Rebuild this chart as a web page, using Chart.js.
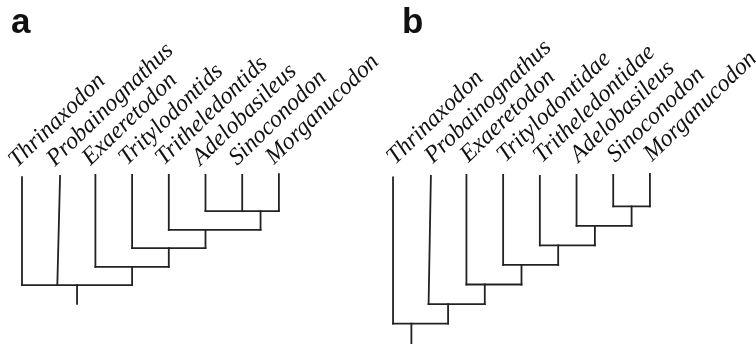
<!DOCTYPE html>
<html>
<head>
<meta charset="utf-8">
<script src="https://cdn.jsdelivr.net/npm/chart.js@4/dist/chart.umd.min.js"></script>
<style>
  html, body { margin: 0; padding: 0; background: #ffffff; }
  #wrap { width: 756px; height: 344px; position: relative; }
  .pre1 { font: italic 24px "Liberation Serif"; position: absolute; left: -9999px; }
  .pre2 { font: bold 35px "Liberation Sans"; position: absolute; left: -9999px; }
</style>
</head>
<body>
<span class="pre1">Thrinaxodon</span><span class="pre2">ab</span>
<div id="wrap"><canvas id="c" width="756" height="344"></canvas></div>
<script>
// ---------- DATA ----------
const panelLetters = ['a', 'b'];

// Panel a
const taxaA = ['Thrinaxodon', 'Probainognathus', 'Exaeretodon', 'Tritylodontids',
               'Tritheledontids', 'Adelobasileus', 'Sinoconodon', 'Morganucodon'];
const tipTopA = [0.12, 0.05, 0, 0, 0, 0, 0, -0.05];      // level of each tip's top
const tipLeanA = [0, 0.075, 0, 0, 0, 0, 0, 0];            // top-x minus bottom-x
const nodeChildrenA = [['t5', 't6', 't7'], ['t4', 'n0'], ['t3', 'n1'], ['t2', 'n2'], ['t0', 't1', 'n3']];
const nodeLevelA = [1.95, 2.97, 3.95, 4.97, 5.95];
const nodeXA = [6.5, 5.0, 4.0, 3.0, 1.5];
const rootBaseA = 6.97;

// Panel b
const taxaB = ['Thrinaxodon', 'Probainognathus', 'Exaeretodon', 'Tritylodontidae',
               'Tritheledontidae', 'Adelobasileus', 'Sinoconodon', 'Morganucodon'];
const tipTopB = [0.12, 0.05, 0, 0, 0.04, 0, 0, -0.05];
const tipLeanB = [0, 0.063, 0, 0, 0, 0, 0, 0];
const nodeChildrenB = [['t6', 't7'], ['t5', 'n0'], ['t4', 'n1'], ['t3', 'n2'], ['t2', 'n3'], ['t1', 'n4'], ['t0', 'n5']];
const nodeLevelB = [1.6, 2.6, 3.6, 4.6, 5.6, 6.6, 7.6];
const nodeXB = [6.5, 5.5, 4.5, 3.5, 2.5, 1.5, 0.5];
const rootBaseB = 8.6;

const panelOffsetB = 10.11; // x offset of panel b tips (in tip-spacing units)

// ---------- BUILD SEGMENTS ----------
const LINE_COLOR = '#222222';
const datasets = [];
function seg(p1, p2, axis) {
  datasets.push({
    data: [p1, p2],
    yAxisID: axis,
    borderColor: LINE_COLOR,
    borderWidth: 1.8,
    pointRadius: 0,
    showLine: true,
    fill: false,
    borderCapStyle: 'square'
  });
}
function buildTree(taxa, tipTop, tipLean, children, levels, xs, rootBase, off, axis) {
  const info = (id) => {
    const k = parseInt(id.slice(1));
    if (id[0] === 't') return { x: k + off, top: tipTop[k], lean: tipLean[k] };
    return { x: xs[k] + off, top: levels[k], lean: 0 };
  };
  children.forEach((ch, i) => {
    const lv = levels[i];
    const cx = ch.map(c => info(c).x - info(c).lean / 2);
    seg({ x: Math.min(...cx), y: lv }, { x: Math.max(...cx), y: lv }, axis);
    ch.forEach(c => {
      const f = info(c);
      seg({ x: f.x + f.lean / 2, y: f.top }, { x: f.x - f.lean / 2, y: lv }, axis);
    });
  });
  const r = children.length - 1;
  seg({ x: xs[r] + off, y: levels[r] }, { x: xs[r] + off, y: rootBase }, axis);
}
buildTree(taxaA, tipTopA, tipLeanA, nodeChildrenA, nodeLevelA, nodeXA, rootBaseA, 0, 'ya');
buildTree(taxaB, tipTopB, tipLeanB, nodeChildrenB, nodeLevelB, nodeXB, rootBaseB, panelOffsetB, 'yb');

// ---------- LABEL PLUGIN ----------
const labelPlugin = {
  id: 'treeLabels',
  afterDatasetsDraw(chart) {
    const ctx = chart.ctx;
    const xs = chart.scales.x;
    const panels = [
      { taxa: taxaA, top: tipTopA, lean: tipLeanA, off: 0, ys: chart.scales.ya, dx: -5, dy: -9 },
      { taxa: taxaB, top: tipTopB, lean: tipLeanB, off: panelOffsetB, ys: chart.scales.yb, dx: 2, dy: -12 }
    ];
    const ang = 44 * Math.PI / 180;
    panels.forEach((p, pi) => {
      ctx.save();
      ctx.fillStyle = '#111111';
      ctx.font = 'italic 24px "Liberation Serif"';
      ctx.textAlign = 'left';
      ctx.textBaseline = 'alphabetic';
      p.taxa.forEach((name, i) => {
        const px = xs.getPixelForValue(i + p.off + p.lean[i] / 2);
        const py = p.ys.getPixelForValue(p.top[i]);
        ctx.save();
        ctx.translate(px + p.dx, py + p.dy);
        ctx.rotate(-ang);
        ctx.fillText(name, 0, 0);
        ctx.restore();
      });
      // panel letter
      const lx = xs.getPixelForValue(p.off);
      ctx.font = 'bold 35px "Liberation Sans"';
      ctx.fillStyle = '#111111';
      ctx.fillText(panelLetters[pi], lx + (pi === 0 ? -11 : 9), 33);
      ctx.restore();
    });
  }
};

// ---------- CHART ----------
function makeChart() {
  new Chart(document.getElementById('c'), {
    type: 'scatter',
    data: { datasets },
    options: {
      responsive: false,
      devicePixelRatio: 1,
      animation: false,
      layout: { padding: 0 },
      plugins: { legend: { display: false }, tooltip: { enabled: false }, title: { display: false } },
      elements: { line: { tension: 0 } },
      scales: {
        x: { type: 'linear', display: false, min: -22 / 36.7, max: (756 - 22) / 36.7 },
        ya: { type: 'linear', display: false, reverse: true, min: -175 / 18.5, max: (344 - 175) / 18.5 },
        yb: { type: 'linear', display: false, reverse: true, min: -175 / 19.55, max: (344 - 175) / 19.55 }
      }
    },
    plugins: [labelPlugin]
  });
}
Promise.all([
  document.fonts.load('italic 24px "Liberation Serif"'),
  document.fonts.load('bold 35px "Liberation Sans"')
]).then(makeChart, makeChart);
</script>
</body>
</html>
